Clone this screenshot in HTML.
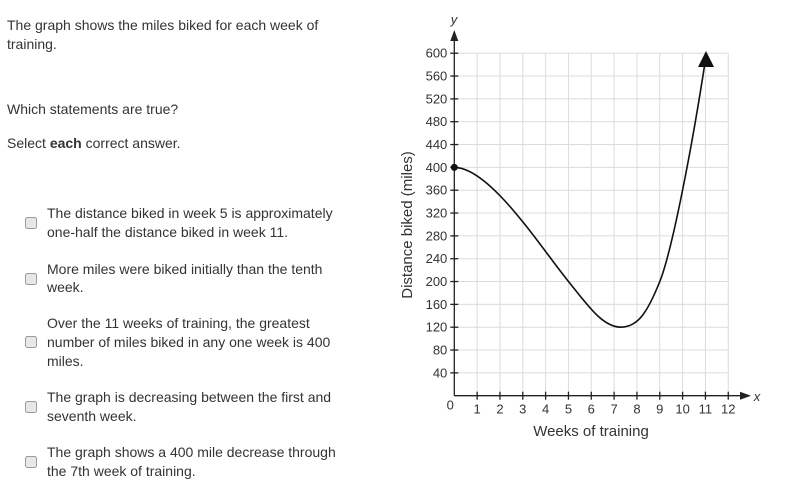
<!DOCTYPE html>
<html><head><meta charset="utf-8"><style>
html,body{margin:0;padding:0;background:#fff;}
svg{display:block;font-family:"Liberation Sans",Arial,sans-serif;}
</style></head><body>
<svg id="s" width="791" height="500" viewBox="0 0 791 500" xmlns="http://www.w3.org/2000/svg">
<g fill="#333" font-size="14">
<text x="7" y="30">The graph shows the miles biked for each week of</text>
<text x="7" y="49">training.</text>
<text x="7" y="114">Which statements are true?</text>
<text x="7" y="148">Select <tspan font-weight="bold">each</tspan> correct answer.</text>
<text x="47" y="218">The distance biked in week 5 is approximately</text>
<text x="47" y="237">one-half the distance biked in week 11.</text>
<text x="47" y="274">More miles were biked initially than the tenth</text>
<text x="47" y="292">week.</text>
<text x="47" y="328">Over the 11 weeks of training, the greatest</text>
<text x="47" y="347">number of miles biked in any one week is 400</text>
<text x="47" y="366">miles.</text>
<text x="47" y="402">The graph is decreasing between the first and</text>
<text x="47" y="421">seventh week.</text>
<text x="47" y="457">The graph shows a 400 mile decrease through</text>
<text x="47" y="476">the 7th week of training.</text>
</g>
<g fill="#e8e8e8" stroke="#9a9a9a" stroke-width="1">
<rect x="25.5" y="217.5" width="11" height="11" rx="2"/>
<rect x="25.5" y="273.5" width="11" height="11" rx="2"/>
<rect x="25.5" y="336.5" width="11" height="11" rx="2"/>
<rect x="25.5" y="401.5" width="11" height="11" rx="2"/>
<rect x="25.5" y="456.5" width="11" height="11" rx="2"/>
</g>
<g id="grid" stroke="#dcdcdc" stroke-width="1"></g>
<g id="axes" stroke="#222" stroke-width="1.3" fill="none"></g>
<g id="lbl" fill="#333" font-size="13"></g>
<text x="454" y="24" font-size="13" font-style="italic" fill="#333" text-anchor="middle">y</text>
<text x="757" y="401" font-size="13" font-style="italic" fill="#333" text-anchor="middle">x</text>
<text x="591" y="436" font-size="15" fill="#333" text-anchor="middle">Weeks of training</text>
<text transform="translate(412,225) rotate(-90)" font-size="15" fill="#333" text-anchor="middle">Distance biked (miles)</text>
<path fill="none" stroke="#111" stroke-width="1.6" d="M454.3,167.4 C490,167.4 540,246.5 568.5,281.5 C588.5,306.5 603,327.2 621,327.2 C638,327.2 647.8,311.5 659.8,281.5 C671.8,251.5 691.4,151.3 705.4,60"/>
<circle cx="454.3" cy="167.4" r="3.5" fill="#111"/>
<polygon points="706,51 698,67 714,67" fill="#111"/>
</svg>
<script>
var NS="http://www.w3.org/2000/svg";
function px(x){return 454.3+22.83*x;}function py(y){return 395.7-0.5708*y;}
function el(p,t,a,txt){var e=document.createElementNS(NS,t);for(var k in a)e.setAttribute(k,a[k]);if(txt!==undefined)e.textContent=txt;document.getElementById(p).appendChild(e);}
for(var i=1;i<=12;i++)el("grid","line",{x1:px(i),x2:px(i),y1:py(600),y2:py(0)});
for(var j=1;j<=15;j++)el("grid","line",{x1:px(0),x2:px(12),y1:py(j*40),y2:py(j*40)});
el("axes","line",{x1:px(0),x2:px(0),y1:py(0),y2:38});
el("axes","line",{x1:px(0),x2:745,y1:py(0),y2:py(0)});
el("axes","polygon",{points:(px(0))+",30 "+(px(0)-4)+",41 "+(px(0)+4)+",41",fill:"#222",stroke:"none"});
el("axes","polygon",{points:"751,"+py(0)+" 740,"+(py(0)-4)+" 740,"+(py(0)+4),fill:"#222",stroke:"none"});
for(var i=1;i<=12;i++){el("axes","line",{x1:px(i),x2:px(i),y1:py(0)-4,y2:py(0)+4});el("lbl","text",{x:px(i),y:py(0)+18,"text-anchor":"middle"},String(i));}
for(var j=1;j<=15;j++){el("axes","line",{x1:px(0)-4,x2:px(0)+4,y1:py(j*40),y2:py(j*40)});el("lbl","text",{x:px(0)-7,y:py(j*40)+4.5,"text-anchor":"end"},String(j*40));}
el("lbl","text",{x:px(0)-4,y:py(0)+14,"text-anchor":"middle"},"0");
</script>
</body></html>
